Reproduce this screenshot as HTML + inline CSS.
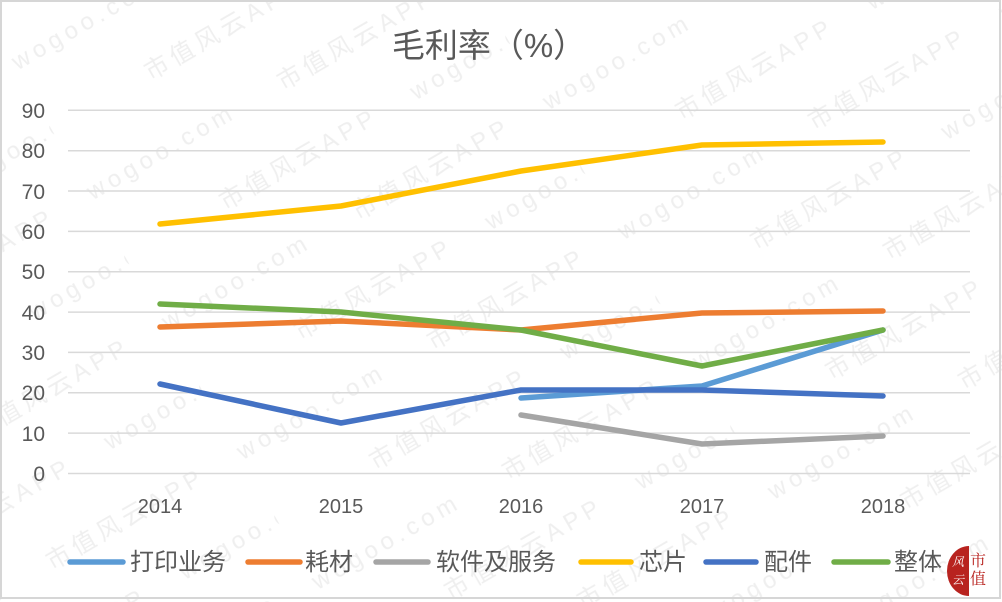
<!DOCTYPE html>
<html>
<head>
<meta charset="utf-8">
<style>
  html, body { margin: 0; padding: 0; background: #ffffff; }
  svg { display: block; }
  .t { font-family: "Liberation Sans", "Noto Sans CJK SC", sans-serif; fill: #595959; }
  .c { font-family: "Liberation Sans", "Noto Sans CJK SC", sans-serif; fill: #595959; }
  .wm { font-family: "Liberation Sans", "Noto Sans CJK SC", sans-serif; fill: #efefef; font-size: 24px; letter-spacing: 5px; }
</style>
</head>
<body>
<svg width="1002" height="602" viewBox="0 0 1002 602" xmlns="http://www.w3.org/2000/svg">
  <defs>
    <pattern id="wmp" patternUnits="userSpaceOnUse" width="440" height="150" patternTransform="rotate(-30) translate(-20 30)">
      <text class="wm" x="0" y="40">wogoo.com</text>
      <text class="wm" x="220" y="40">市值风云APP</text>
      <text class="wm" x="110" y="115">市值风云APP</text>
      <text class="wm" x="330" y="115">wogoo.com</text>
    </pattern>
  </defs>
  <rect x="0" y="0" width="1002" height="602" fill="#ffffff"/>
  <rect x="0" y="0" width="1002" height="602" fill="url(#wmp)"/>

  <!-- border -->
  <rect x="1" y="1" width="999" height="597" fill="none" stroke="#d6d6d6" stroke-width="2"/>

  <!-- title -->
  <text class="t" x="489" y="57" font-size="33" text-anchor="middle">毛利率（%）</text>

  <!-- gridlines -->
  <g stroke="#d9d9d9" stroke-width="1.5">
    <line x1="68" y1="110.3" x2="970" y2="110.3"/>
    <line x1="68" y1="150.7" x2="970" y2="150.7"/>
    <line x1="68" y1="191.0" x2="970" y2="191.0"/>
    <line x1="68" y1="231.4" x2="970" y2="231.4"/>
    <line x1="68" y1="271.7" x2="970" y2="271.7"/>
    <line x1="68" y1="312.1" x2="970" y2="312.1"/>
    <line x1="68" y1="352.4" x2="970" y2="352.4"/>
    <line x1="68" y1="392.8" x2="970" y2="392.8"/>
    <line x1="68" y1="433.1" x2="970" y2="433.1"/>
    <line x1="68" y1="473.5" x2="970" y2="473.5"/>
  </g>

  <!-- y labels -->
  <g class="c" font-size="21" text-anchor="end">
    <text x="45" y="118">90</text>
    <text x="45" y="158">80</text>
    <text x="45" y="199">70</text>
    <text x="45" y="239">60</text>
    <text x="45" y="279">50</text>
    <text x="45" y="320">40</text>
    <text x="45" y="360">30</text>
    <text x="45" y="400">20</text>
    <text x="45" y="441">10</text>
    <text x="45" y="481">0</text>
  </g>

  <!-- x labels -->
  <g class="c" font-size="20" text-anchor="middle">
    <text x="160" y="513">2014</text>
    <text x="341" y="513">2015</text>
    <text x="521" y="513">2016</text>
    <text x="702" y="513">2017</text>
    <text x="883" y="513">2018</text>
  </g>

  <!-- series -->
  <g fill="none" stroke-width="5.5" stroke-linecap="round" stroke-linejoin="round">
    <polyline stroke="#5B9BD5" points="521,398 702,386 883,330"/>
    <polyline stroke="#ED7D31" points="160,327 341,321 521,330 702,313 883,311"/>
    <polyline stroke="#A5A5A5" points="521,415 702,444 883,436"/>
    <polyline stroke="#FFC000" points="160,224 341,206 521,171 702,145 883,142"/>
    <polyline stroke="#4472C4" points="160,384 341,423 521,390 702,390 883,396"/>
    <polyline stroke="#70AD47" points="160,304 341,312 521,330 702,366 883,330"/>
  </g>

  <!-- legend -->
  <g stroke-width="5.5" stroke-linecap="round">
    <line x1="70" y1="562" x2="123" y2="562" stroke="#5B9BD5"/>
    <line x1="248" y1="562" x2="300" y2="562" stroke="#ED7D31"/>
    <line x1="376" y1="562" x2="428" y2="562" stroke="#A5A5A5"/>
    <line x1="581" y1="562" x2="631" y2="562" stroke="#FFC000"/>
    <line x1="706" y1="562" x2="756" y2="562" stroke="#4472C4"/>
    <line x1="834" y1="562" x2="888" y2="562" stroke="#70AD47"/>
  </g>
  <g class="c" font-size="24">
    <text x="130" y="570">打印业务</text>
    <text x="305" y="570">耗材</text>
    <text x="436" y="570">软件及服务</text>
    <text x="639" y="570">芯片</text>
    <text x="764" y="570">配件</text>
    <text x="894" y="570">整体</text>
  </g>

  <!-- logo -->
  <path d="M969,546 A22,25 0 0 0 969,596 Z" fill="#b8231f"/>
  <text x="958" y="566" font-size="12" fill="#ffffff" text-anchor="middle" font-family="'Noto Serif CJK SC', serif" font-style="italic">风</text>
  <text x="958" y="584" font-size="12" fill="#ffffff" text-anchor="middle" font-family="'Noto Serif CJK SC', serif" font-style="italic">云</text>
  <text x="978" y="566" font-size="16" fill="#b8231f" text-anchor="middle" font-family="'Noto Serif CJK SC', serif">市</text>
  <text x="978" y="584" font-size="16" fill="#b8231f" text-anchor="middle" font-family="'Noto Serif CJK SC', serif">值</text>
</svg>
</body>
</html>
